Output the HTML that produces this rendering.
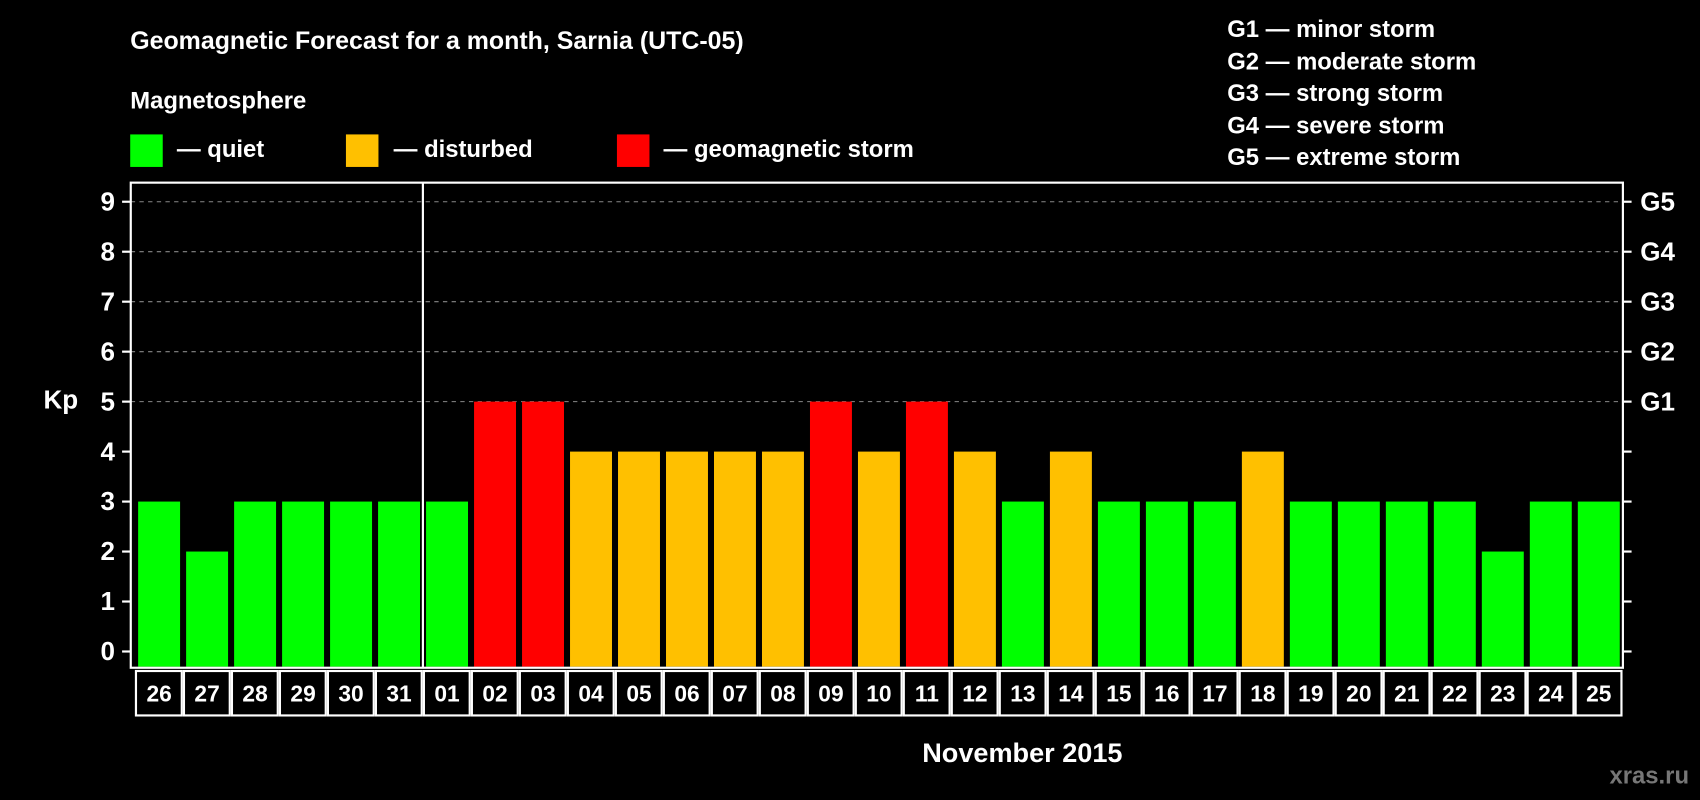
<!DOCTYPE html>
<html><head><meta charset="utf-8"><style>
html,body{margin:0;padding:0;background:#000;}
svg{display:block;font-family:"Liberation Sans",Arial,sans-serif;font-weight:bold;}
</style></head><body>
<svg id="chart" width="1700" height="800" viewBox="0 0 1568 738" xmlns="http://www.w3.org/2000/svg">
<rect x="0" y="0" width="1568" height="738" fill="#000"/>
<text x="120" y="45" fill="#fff" font-size="23">Geomagnetic Forecast for a month, Sarnia (UTC-05)</text>
<text x="120" y="100" fill="#fff" font-size="22">Magnetosphere</text>
<g><rect x="120" y="124" width="30" height="30" fill="#00ff00"/><text x="163" y="145" fill="#fff" font-size="22">— quiet</text></g>
<g><rect x="319" y="124" width="30" height="30" fill="#ffc000"/><text x="363" y="145" fill="#fff" font-size="22">— disturbed</text></g>
<g><rect x="569" y="124" width="30" height="30" fill="#ff0000"/><text x="612" y="145" fill="#fff" font-size="22">— geomagnetic storm</text></g>
<g fill="#fff" font-size="22">
<text x="1132" y="34">G1 — minor storm</text>
<text x="1132" y="64">G2 — moderate storm</text>
<text x="1132" y="93">G3 — strong storm</text>
<text x="1132" y="123">G4 — severe storm</text>
<text x="1132" y="152">G5 — extreme storm</text>
</g>
<text x="40" y="377" fill="#fff" font-size="24">Kp</text>
<text x="943" y="703" fill="#fff" font-size="25" text-anchor="middle">November 2015</text>
<text x="1558" y="723" fill="#777" font-size="22" text-anchor="end">xras.ru</text>
<g id="grid"></g><g id="bars"></g><g id="axes"></g><g id="dates"></g>
</svg>
<script>
const days=["26","27","28","29","30","31","01","02","03","04","05","06","07","08","09","10","11","12","13","14","15","16","17","18","19","20","21","22","23","24","25"];
const kp=[3,2,3,3,3,3,3,5,5,4,4,4,4,4,5,4,5,4,3,4,3,3,3,4,3,3,3,3,2,3,3];
const yTicks=[0,1,2,3,4,5,6,7,8,9];
const gLabels=["G1","G2","G3","G4","G5"];
const gLevels=[5,6,7,8,9];
const NS="http://www.w3.org/2000/svg";
const L=120.5,R=1497,T=168.5,B=616;
const pitch=44.27,bw=38.7,x0=127.3;
function y(v){return 601-v*46.1;}
function x(i){return x0+i*pitch;}
function mk(t,a,p){const e=document.createElementNS(NS,t);for(const k in a)e.setAttribute(k,a[k]);p.appendChild(e);return e;}
const grid=document.getElementById('grid'),bars=document.getElementById('bars'),axes=document.getElementById('axes'),dates=document.getElementById('dates');
gLevels.forEach(v=>{const l=mk('line',{x1:L,x2:R,y1:y(v),y2:y(v),stroke:'#888','stroke-dasharray':'4,4','stroke-width':1},grid);

});
kp.forEach((v,i)=>{const c=v>=5?'#ff0000':(v>=4?'#ffc000':'#00ff00');
const r=mk('rect',{x:x(i),y:y(v),width:bw,height:y(0)-y(v)+14,fill:c},bars);

});
const fr=mk('rect',{x:L,y:T,width:R-L,height:B-T,fill:'none',stroke:'#fff','stroke-width':2},axes);


const sep=mk('line',{x1:390,x2:390,y1:T,y2:B,stroke:'#fff','stroke-width':2},axes);


yTicks.forEach(v=>{mk('line',{x1:L-8,x2:L,y1:y(v),y2:y(v),stroke:'#fff','stroke-width':2},axes);
mk('line',{x1:R,x2:R+8,y1:y(v),y2:y(v),stroke:'#fff','stroke-width':2},axes);
const t=mk('text',{x:106,y:y(v)+8,fill:'#fff','font-size':24,'text-anchor':'end'},axes);t.textContent=v;

});
gLabels.forEach((g,i)=>{const t=mk('text',{x:1513,y:y(gLevels[i])+8,fill:'#fff','font-size':24},axes);t.textContent=g;

});
days.forEach((d,i)=>{const cx=x(i)-3;
mk('rect',{x:cx+1,y:619,width:pitch-2,height:41,fill:'none',stroke:'#fff','stroke-width':2},dates);
const t=mk('text',{x:x(i)+bw/2,y:647,fill:'#fff','font-size':21,'text-anchor':'middle'},dates);t.textContent=d;

});
</script>
</body></html>
